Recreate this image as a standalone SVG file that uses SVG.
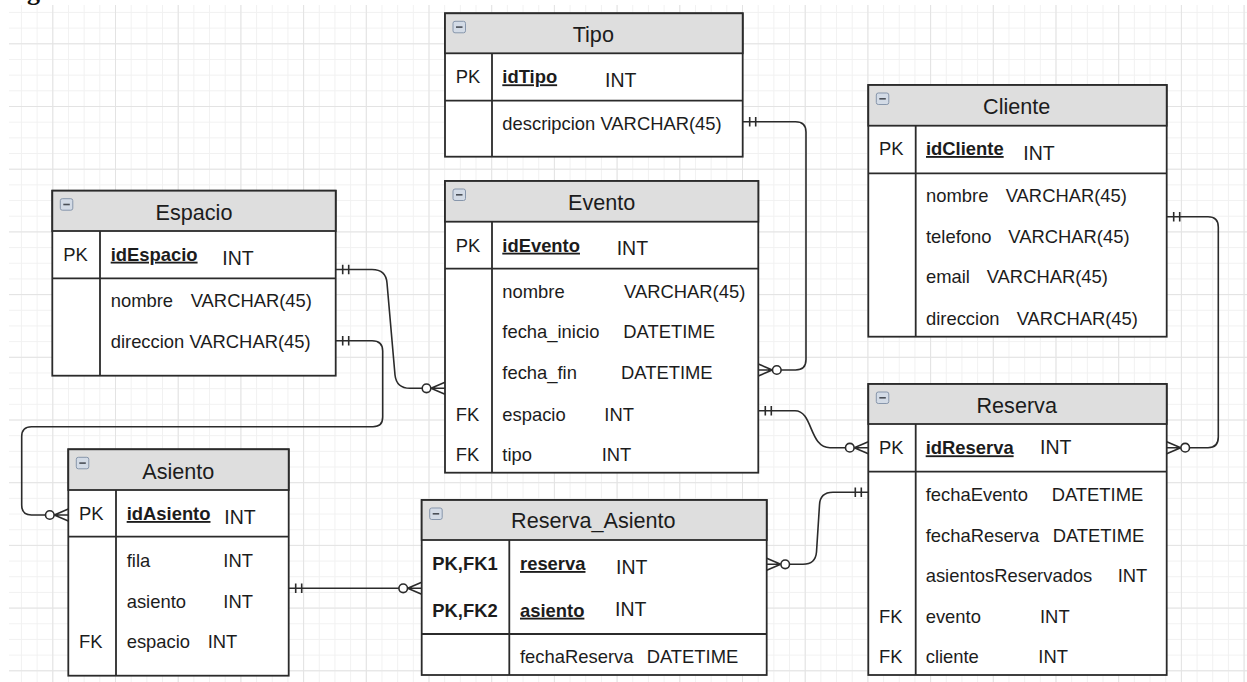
<svg xmlns="http://www.w3.org/2000/svg" xmlns:xlink="http://www.w3.org/1999/xlink" width="1247" height="682" viewBox="0 0 1247 682">
<style>
.t{font-family:"Liberation Sans",Arial,Helvetica,sans-serif;font-size:18.4px;fill:#1c1c1c}
.h{font-size:21.6px;text-anchor:middle}
.i{font-size:19.5px}
.k{font-weight:bold}
.u{font-weight:bold;text-decoration:underline}
.box{fill:#fff;stroke:#2b2b2b;stroke-width:1.8}
.hd{fill:#dedede;stroke:#2b2b2b;stroke-width:1.8}
.ln{stroke:#2b2b2b;stroke-width:1.8;fill:none}
.cn{stroke:#2b2b2b;stroke-width:1.6;fill:none}
.ci{stroke:#2b2b2b;stroke-width:1.6;fill:#fff}
</style>
<defs>
<pattern id="gmin" patternUnits="userSpaceOnUse" x="52.3" y="43.3" width="15.675" height="15.675">
<rect x="0" y="0" width="1" height="15.675" fill="#f1f1f1"/>
<rect x="0" y="0" width="15.675" height="1" fill="#f1f1f1"/>
</pattern>
<pattern id="gmaj" patternUnits="userSpaceOnUse" x="52.3" y="43.3" width="62.7" height="62.7">
<rect x="0" y="0" width="1" height="62.7" fill="#e3e3e3"/>
<rect x="0" y="0" width="62.7" height="1" fill="#e3e3e3"/>
</pattern>
<g id="minus">
<rect x="0" y="0" width="12.5" height="11.5" rx="2" fill="#d3dbe6" stroke="#8796ab" stroke-width="1"/>
<rect x="3" y="5" width="6.5" height="1.6" fill="#4a4f57"/>
</g>
<g id="zm">
<path class="cn" d="M-14,0 L0,-6 M-14,0 L0,0 M-14,0 L0,6"/>
<circle class="ci" cx="-18.5" cy="0" r="4.3"/>
</g>
<g id="one">
<path class="cn" d="M7,-4.8 V4.8 M13,-4.8 V4.8"/>
</g>
</defs>

<rect x="0" y="0" width="1247" height="682" fill="#fff"/>
<rect x="9" y="5" width="1238" height="677" fill="url(#gmin)"/>
<rect x="9" y="5" width="1238" height="677" fill="url(#gmaj)"/>
<text x="27" y="0" font-family="Liberation Serif,serif" font-weight="bold" font-size="26" fill="#111">g</text>

<g id="connectors">
<path class="cn" d="M335.7,269.5 H372 Q386,269.5 387,283 L395,375 Q396.5,388.3 410,388.3 H426"/>
<use xlink:href="#one" transform="translate(335.7,269.5)"/>
<use xlink:href="#zm" transform="translate(445,388.3)"/>

<path class="cn" d="M335.7,340.7 H372 Q382.7,340.7 382.7,351 V417 Q382.7,426.7 373,426.7 H31.5 Q21.7,426.7 21.7,436.5 V505 Q21.7,515 31.5,515 H50"/>
<use xlink:href="#one" transform="translate(335.7,340.7)"/>
<use xlink:href="#zm" transform="translate(68.3,515)"/>

<path class="cn" d="M742.7,121.7 H795.5 Q806,121.7 806,132 V359.5 Q806,370 795.5,370 H777"/>
<use xlink:href="#one" transform="translate(742.7,121.7)"/>
<use xlink:href="#zm" transform="translate(758.3,370) scale(-1,1)"/>

<path class="cn" d="M758.3,410.7 H795 C813,410.7 809,447.7 830,447.7 H850"/>
<use xlink:href="#one" transform="translate(758.3,410.7)"/>
<use xlink:href="#zm" transform="translate(868.3,447.7)"/>

<path class="cn" d="M868.3,492.3 H833 Q820,492.3 819.5,505 L816.5,552 Q815.5,564.3 803,564.3 H786"/>
<use xlink:href="#one" transform="translate(868.3,492.3) scale(-1,1)"/>
<use xlink:href="#zm" transform="translate(766.7,564.3) scale(-1,1)"/>

<path class="cn" d="M288.7,588.3 H403"/>
<use xlink:href="#one" transform="translate(288.7,588.3)"/>
<use xlink:href="#zm" transform="translate(421.7,588.3)"/>

<path class="cn" d="M1166.7,216.7 H1208 Q1218.3,216.7 1218.3,227 V437 Q1218.3,447.7 1208,447.7 H1186"/>
<use xlink:href="#one" transform="translate(1166.7,216.7)"/>
<use xlink:href="#zm" transform="translate(1166.7,447.7) scale(-1,1)"/>
</g>

<g id="tipo">
<rect class="box" x="445" y="13.3" width="297.7" height="143.4"/>
<rect class="hd" x="445" y="13.3" width="297.7" height="40"/>
<path class="ln" d="M445,100.7 H742.7 M492,53.3 V156.7"/>
<use xlink:href="#minus" x="453" y="21.3"/>
<text class="t h" x="593.3" y="41.7">Tipo</text>
<text class="t" x="455.7" y="83.3">PK</text>
<text class="t u" x="502.3" y="83.3">idTipo</text>
<text class="t i" x="605" y="86.7">INT</text>
<text class="t" x="502.3" y="130">descripcion VARCHAR(45)</text>
</g>

<g id="evento">
<rect class="box" x="445" y="181" width="313.3" height="291.7"/>
<rect class="hd" x="445" y="181" width="313.3" height="40.7"/>
<path class="ln" d="M445,268.7 H758.3 M492,221.7 V472.7"/>
<use xlink:href="#minus" x="453" y="189"/>
<text class="t h" x="601.7" y="210">Evento</text>
<text class="t" x="455.7" y="251.7">PK</text>
<text class="t u" x="502.3" y="251.7">idEvento</text>
<text class="t i" x="616.7" y="255">INT</text>
<text class="t" x="502.3" y="298.3">nombre</text>
<text class="t" x="624" y="298.3">VARCHAR(45)</text>
<text class="t" x="502.3" y="338.3">fecha_inicio</text>
<text class="t" x="623.3" y="338.3">DATETIME</text>
<text class="t" x="502.3" y="379.3">fecha_fin</text>
<text class="t" x="621" y="379.3">DATETIME</text>
<text class="t" x="455.7" y="420.7">FK</text>
<text class="t" x="502.3" y="420.7">espacio</text>
<text class="t" x="604.3" y="420.7">INT</text>
<text class="t" x="455.7" y="461">FK</text>
<text class="t" x="502.3" y="461">tipo</text>
<text class="t" x="601.7" y="461">INT</text>
</g>

<g id="espacio">
<rect class="box" x="52.3" y="190.7" width="283.4" height="185"/>
<rect class="hd" x="52.3" y="190.7" width="283.4" height="40.3"/>
<path class="ln" d="M52.3,278.3 H335.7 M100,231 V375.7"/>
<use xlink:href="#minus" x="60.3" y="198.7"/>
<text class="t h" x="194" y="220">Espacio</text>
<text class="t" x="63.3" y="260.7">PK</text>
<text class="t u" x="110.7" y="260.7">idEspacio</text>
<text class="t i" x="222.3" y="265">INT</text>
<text class="t" x="110.7" y="307.3">nombre</text>
<text class="t" x="190.7" y="307.3">VARCHAR(45)</text>
<text class="t" x="110.7" y="347.7">direccion VARCHAR(45)</text>
</g>

<g id="cliente">
<rect class="box" x="868.3" y="85" width="298.4" height="251.7"/>
<rect class="hd" x="868.3" y="85" width="298.4" height="40.7"/>
<path class="ln" d="M868.3,173.3 H1166.7 M915.7,125.7 V336.7"/>
<use xlink:href="#minus" x="876.3" y="93"/>
<text class="t h" x="1016.7" y="114">Cliente</text>
<text class="t" x="879" y="155">PK</text>
<text class="t u" x="926" y="155">idCliente</text>
<text class="t i" x="1023.3" y="160">INT</text>
<text class="t" x="926" y="202.3">nombre</text>
<text class="t" x="1005.7" y="202.3">VARCHAR(45)</text>
<text class="t" x="926" y="243.3">telefono</text>
<text class="t" x="1008.3" y="243.3">VARCHAR(45)</text>
<text class="t" x="926" y="283.3">email</text>
<text class="t" x="986.7" y="283.3">VARCHAR(45)</text>
<text class="t" x="926" y="325">direccion</text>
<text class="t" x="1016.7" y="325">VARCHAR(45)</text>
</g>

<g id="reserva">
<rect class="box" x="868.3" y="384" width="298.4" height="291"/>
<rect class="hd" x="868.3" y="384" width="298.4" height="40"/>
<path class="ln" d="M868.3,471.7 H1166.7 M915.7,424 V675"/>
<use xlink:href="#minus" x="876.3" y="392"/>
<text class="t h" x="1016.7" y="413.3">Reserva</text>
<text class="t" x="879" y="454.3">PK</text>
<text class="t u" x="925.7" y="454.3">idReserva</text>
<text class="t i" x="1040" y="454.3">INT</text>
<text class="t" x="925.7" y="501">fechaEvento</text>
<text class="t" x="1051.7" y="501">DATETIME</text>
<text class="t" x="925.7" y="541.7">fechaReserva</text>
<text class="t" x="1052.7" y="541.7">DATETIME</text>
<text class="t" x="925.7" y="582.3">asientosReservados</text>
<text class="t" x="1117.7" y="582.3">INT</text>
<text class="t" x="879" y="623.3">FK</text>
<text class="t" x="925.7" y="623.3">evento</text>
<text class="t" x="1040" y="623.3">INT</text>
<text class="t" x="879" y="663.3">FK</text>
<text class="t" x="925.7" y="663.3">cliente</text>
<text class="t" x="1038.3" y="663.3">INT</text>
</g>

<g id="asiento">
<rect class="box" x="68.3" y="449.3" width="220.4" height="226.4"/>
<rect class="hd" x="68.3" y="449.3" width="220.4" height="40.7"/>
<path class="ln" d="M68.3,536.7 H288.7 M116,490 V675.7"/>
<use xlink:href="#minus" x="76.3" y="457.3"/>
<text class="t h" x="178.3" y="479">Asiento</text>
<text class="t" x="79" y="520">PK</text>
<text class="t u" x="126.7" y="520">idAsiento</text>
<text class="t i" x="224.3" y="524">INT</text>
<text class="t" x="126.7" y="566.7">fila</text>
<text class="t" x="223.3" y="566.7">INT</text>
<text class="t" x="126.7" y="607.7">asiento</text>
<text class="t" x="223.3" y="607.7">INT</text>
<text class="t" x="79" y="648.3">FK</text>
<text class="t" x="126.7" y="648.3">espacio</text>
<text class="t" x="207.7" y="648.3">INT</text>
</g>

<g id="reserva_asiento">
<rect class="box" x="421.7" y="500" width="345" height="175"/>
<rect class="hd" x="421.7" y="500" width="345" height="40"/>
<path class="ln" d="M421.7,634 H766.7 M509.3,540 V675"/>
<use xlink:href="#minus" x="429.7" y="508"/>
<text class="t h" x="593.3" y="528.3">Reserva_Asiento</text>
<text class="t k" x="432.3" y="570">PK,FK1</text>
<text class="t u" x="520" y="570">reserva</text>
<text class="t i" x="616" y="574">INT</text>
<text class="t k" x="432.3" y="616.7">PK,FK2</text>
<text class="t u" x="520" y="616.7">asiento</text>
<text class="t i" x="615" y="616">INT</text>
<text class="t" x="520" y="663.3">fechaReserva</text>
<text class="t" x="646.7" y="663.3">DATETIME</text>
</g>
</svg>
